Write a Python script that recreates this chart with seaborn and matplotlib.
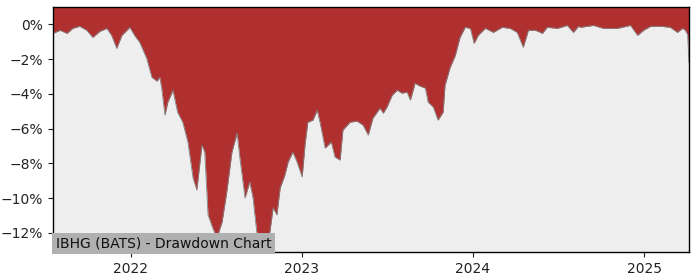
import matplotlib
matplotlib.use("Agg")
import matplotlib.pyplot as plt
import matplotlib.dates as mdates
import matplotlib.ticker as mticker
import seaborn as sns
import pandas as pd

dates = [
    "2021-07-19", "2021-08-03", "2021-08-18", "2021-08-30", "2021-09-14", "2021-09-29",
    "2021-10-12", "2021-10-27", "2021-11-11", "2021-11-21", "2021-12-02", "2021-12-13",
    "2021-12-30", "2022-01-09", "2022-01-20", "2022-02-04", "2022-02-15", "2022-02-26",
    "2022-03-04", "2022-03-08", "2022-03-15", "2022-03-21", "2022-04-01", "2022-04-11",
    "2022-04-22", "2022-05-03", "2022-05-14", "2022-05-22", "2022-06-02", "2022-06-08",
    "2022-06-15", "2022-06-25", "2022-07-04", "2022-07-15", "2022-07-25", "2022-08-05",
    "2022-08-16", "2022-08-22", "2022-09-02", "2022-09-12", "2022-09-19", "2022-09-27",
    "2022-10-04", "2022-10-10", "2022-10-14", "2022-10-25", "2022-11-01", "2022-11-09",
    "2022-11-16", "2022-11-26", "2022-12-03", "2022-12-13", "2022-12-22", "2023-01-02",
    "2023-01-08", "2023-01-14", "2023-01-25", "2023-02-03", "2023-02-09", "2023-02-20",
    "2023-03-05", "2023-03-13", "2023-03-24", "2023-03-30", "2023-04-14", "2023-04-29",
    "2023-05-12", "2023-05-23", "2023-06-02", "2023-06-17", "2023-06-24", "2023-07-02",
    "2023-07-13", "2023-07-24", "2023-08-03", "2023-08-14", "2023-08-21", "2023-08-31",
    "2023-09-11", "2023-09-22", "2023-09-28", "2023-10-09", "2023-10-19", "2023-10-30",
    "2023-11-03", "2023-11-14", "2023-11-25", "2023-12-05", "2023-12-16", "2023-12-27",
    "2024-01-04", "2024-01-13", "2024-01-28", "2024-02-14", "2024-03-04", "2024-03-21",
    "2024-04-05", "2024-04-18", "2024-04-29", "2024-05-14", "2024-05-29", "2024-06-08",
    "2024-06-30", "2024-07-21", "2024-08-03", "2024-08-14", "2024-08-18", "2024-09-15",
    "2024-10-06", "2024-10-21", "2024-11-05", "2024-12-03", "2024-12-18", "2024-12-31",
    "2025-01-15", "2025-02-05", "2025-02-26", "2025-03-13", "2025-03-24", "2025-03-30",
    "2025-04-04", "2025-04-07",
]
drawdown = [
    -0.52, -0.34, -0.52, -0.23, -0.11, -0.34,
    -0.75, -0.40, -0.23, -0.63, -1.38, -0.63,
    -0.17, -0.63, -1.03, -1.95, -3.04, -3.27,
    -3.04, -3.67, -5.22, -4.48, -3.79, -5.05,
    -5.63, -6.77, -8.84, -9.53, -6.95, -7.35,
    -10.96, -11.71, -12.28, -11.37, -9.64, -7.35,
    -6.26, -7.69, -9.99, -9.07, -9.99, -11.94,
    -12.51, -12.11, -12.86, -11.94, -10.56, -10.96,
    -9.41, -8.67, -7.92, -7.35, -7.92, -8.78,
    -6.95, -5.63, -5.51, -4.94, -5.63, -7.12,
    -6.77, -7.63, -7.81, -6.08, -5.63, -5.57,
    -5.80, -6.37, -5.40, -4.82, -5.11, -4.76,
    -4.08, -3.79, -3.96, -3.90, -4.36, -3.39,
    -3.56, -3.67, -4.48, -4.76, -5.51, -5.05,
    -3.50, -2.47, -1.78, -0.75, -0.17, -0.23,
    -1.09, -0.63, -0.23, -0.46, -0.17, -0.23,
    -0.46, -1.32, -0.34, -0.34, -0.52, -0.17,
    -0.23, -0.06, -0.46, -0.11, -0.17, -0.06,
    -0.23, -0.23, -0.23, -0.06, -0.63, -0.34,
    -0.11, -0.11, -0.17, -0.46, -0.23, -0.34,
    -0.60, -2.20,
]
year_ticks = ["2022-01-01", "2023-01-01", "2024-01-01", "2025-01-01"]
y_ticks = [0, -2, -4, -6, -8, -10, -12]
title = "IBHG (BATS) - Drawdown Chart"

df = pd.DataFrame({"date": pd.to_datetime(dates), "dd": drawdown})

fig = plt.figure(figsize=(7, 2.8), dpi=100)
ax = fig.add_axes([0.0757, 0.1, 0.9086, 0.875])
ax.set_facecolor("#eeeeee")

ytop = 1.0
ax.fill_between(df["date"], df["dd"], ytop, color="#b03030", linewidth=0)
sns.lineplot(data=df, x="date", y="dd", ax=ax, color="#808080", linewidth=0.6)

ax.set_ylim(-13.1, ytop)
ax.set_xlim(df["date"].iloc[0], df["date"].iloc[-1])
ax.set_yticks(y_ticks)
ax.yaxis.set_major_formatter(mticker.FuncFormatter(
    lambda v, p: ("\u2212" if v < 0 else "") + f"{abs(v):.0f}%"))
ax.set_xticks(pd.to_datetime(year_ticks))
ax.xaxis.set_major_formatter(mdates.DateFormatter("%Y"))
ax.set_xlabel("")
ax.set_ylabel("")
ax.tick_params(labelsize=10, colors="#222222")
for s in ax.spines.values():
    s.set_color("black")
    s.set_linewidth(1.0)

ax.text(0.004, 0.008, title, transform=ax.transAxes, fontsize=10,
        va="bottom", ha="left", color="#111111",
        bbox=dict(facecolor="#b0b0b0", edgecolor="none", pad=2.5))

fig.savefig("out.png", dpi=100)
